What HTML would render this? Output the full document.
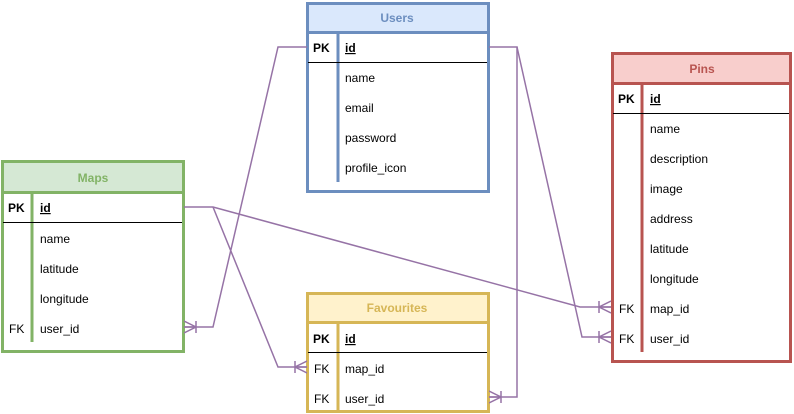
<!DOCTYPE html>
<html><head><style>body{margin:0;background:#fff}svg{display:block}text{font-family:"Liberation Sans",Arial,sans-serif;font-size:12px}</style></head><body>
<svg width="794" height="414" viewBox="0 0 794 414" xmlns="http://www.w3.org/2000/svg">
<defs>
<marker id="cf" viewBox="0 0 20 20" markerWidth="20" markerHeight="20" refX="20" refY="10" orient="auto" markerUnits="userSpaceOnUse">
<path d="M20 4 L8 10 L20 16 M8 10 L20 10 M8 4 L8 16" fill="none" stroke="#9673a6" stroke-width="1.5"/>
</marker>
</defs>
<!-- Users -->
<rect x="307.5" y="3.5" width="181" height="188" fill="#fff" stroke="#6c8ebf" stroke-width="3"/>
<rect x="309" y="5" width="178" height="27" fill="#dae8fc"/>
<line x1="307" y1="32.5" x2="489" y2="32.5" stroke="#6c8ebf" stroke-width="3"/>
<text x="397" y="22" text-anchor="middle" font-weight="bold" fill="#6c8ebf">Users</text>
<line x1="338" y1="33" x2="338" y2="182" stroke="#6c8ebf" stroke-width="3"/>
<line x1="308" y1="62.5" x2="487" y2="62.5" stroke="#000" stroke-width="1"/>
<text x="313" y="52" font-weight="bold">PK</text>
<text x="345" y="52" font-weight="bold" text-decoration="underline">id</text>
<text x="345" y="82">name</text><text x="345" y="112">email</text><text x="345" y="142">password</text><text x="345" y="172">profile_icon</text>
<!-- Maps -->
<rect x="2.5" y="161.5" width="181" height="190" fill="#fff" stroke="#82b366" stroke-width="3"/>
<rect x="4" y="163" width="178" height="29" fill="#d5e8d4"/>
<line x1="2" y1="192.5" x2="184" y2="192.5" stroke="#82b366" stroke-width="3"/>
<text x="93" y="182" text-anchor="middle" font-weight="bold" fill="#82b366">Maps</text>
<line x1="32" y1="193" x2="32" y2="342" stroke="#82b366" stroke-width="3"/>
<line x1="3" y1="222.5" x2="182" y2="222.5" stroke="#000" stroke-width="1"/>
<text x="8" y="212" font-weight="bold">PK</text>
<text x="40" y="212" font-weight="bold" text-decoration="underline">id</text>
<text x="40" y="243">name</text><text x="40" y="273">latitude</text><text x="40" y="303">longitude</text>
<text x="9" y="333">FK</text><text x="40" y="333">user_id</text>
<!-- Pins -->
<rect x="612.5" y="53.5" width="178" height="308" fill="#fff" stroke="#b85450" stroke-width="3"/>
<rect x="614" y="55" width="175" height="27" fill="#f8cecc"/>
<line x1="612" y1="83.5" x2="791" y2="83.5" stroke="#b85450" stroke-width="3"/>
<text x="702" y="73" text-anchor="middle" font-weight="bold" fill="#b85450">Pins</text>
<line x1="642" y1="84" x2="642" y2="352" stroke="#b85450" stroke-width="3"/>
<line x1="613" y1="113.5" x2="789" y2="113.5" stroke="#000" stroke-width="1"/>
<text x="618" y="103" font-weight="bold">PK</text>
<text x="650" y="103" font-weight="bold" text-decoration="underline">id</text>
<text x="650" y="133">name</text><text x="650" y="163">description</text><text x="650" y="193">image</text><text x="650" y="223">address</text><text x="650" y="253">latitude</text><text x="650" y="283">longitude</text>
<text x="619" y="313">FK</text><text x="650" y="313">map_id</text>
<text x="619" y="343">FK</text><text x="650" y="343">user_id</text>
<!-- Favourites -->
<rect x="307.5" y="293.5" width="181" height="118" fill="#fff" stroke="#d6b656" stroke-width="3"/>
<rect x="309" y="295" width="178" height="27" fill="#fff2cc"/>
<line x1="307" y1="322.5" x2="489" y2="322.5" stroke="#d6b656" stroke-width="3"/>
<text x="397" y="312" text-anchor="middle" font-weight="bold" fill="#d6b656">Favourites</text>
<line x1="338" y1="323" x2="338" y2="410" stroke="#d6b656" stroke-width="3"/>
<line x1="308" y1="352.5" x2="487" y2="352.5" stroke="#000" stroke-width="1"/>
<text x="313" y="343" font-weight="bold">PK</text>
<text x="345" y="343" font-weight="bold" text-decoration="underline">id</text>
<text x="314" y="373">FK</text><text x="345" y="373">map_id</text>
<text x="314" y="403">FK</text><text x="345" y="403">user_id</text>
<!-- connectors -->
<g fill="none" stroke="#9673a6" stroke-width="1.5">
<path d="M489 47 L517 47 L517 397 L489 397" marker-end="url(#cf)"/>
<path d="M307 47 L278 47 L213 327 L184 327" marker-end="url(#cf)"/>
<path d="M184 207 L213 207 L580 307 L611 307" marker-end="url(#cf)"/>
<path d="M213 207 L278 367 L307 367" marker-end="url(#cf)"/>
<path d="M517 47 L582 337 L611 337" marker-end="url(#cf)"/>
</g>
</svg>
</body></html>
